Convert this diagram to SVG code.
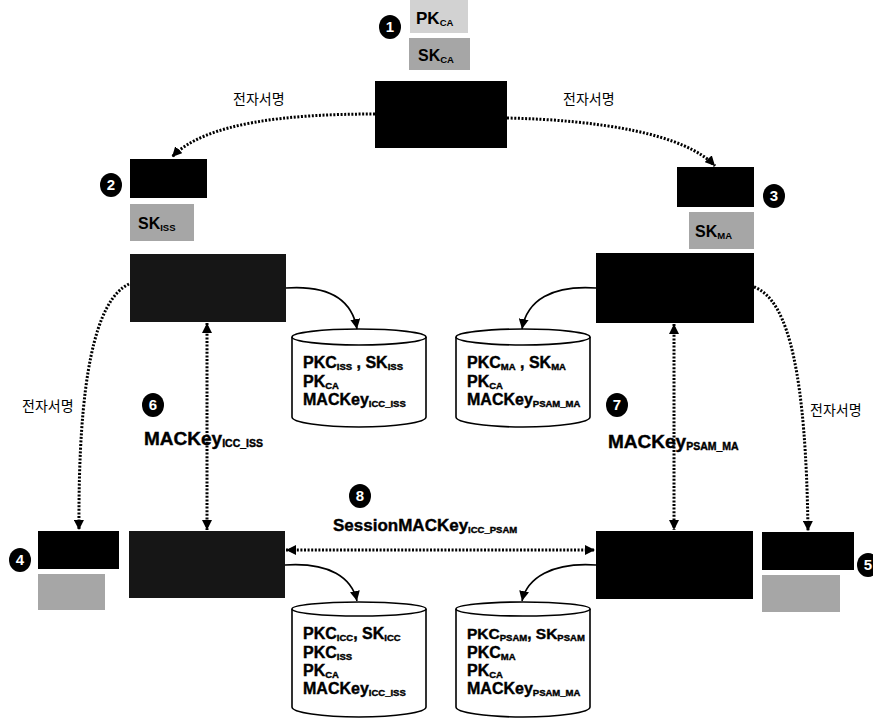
<svg xmlns="http://www.w3.org/2000/svg" width="873" height="727" viewBox="0 0 873 727">
<defs>
<style>
.blk{fill:#000}
.dark{fill:#161616}
.grey{fill:#a6a6a6}
.dot{fill:none;stroke:#000;stroke-width:3;stroke-dasharray:2 1.6}
.sol{fill:none;stroke:#000;stroke-width:1.6}
.cyl{fill:#fff;stroke:#000;stroke-width:1.6}
.t{font-family:"Liberation Sans",Arial,sans-serif;font-weight:bold;fill:#000}
.c{font-size:16px;stroke:#000;stroke-width:0.4}
.sub{font-size:9.5px;baseline-shift:-2px}
.kr{font-family:"Noto Sans CJK KR","Noto Sans",sans-serif;font-size:14px;fill:#000}
.num{font-family:"Liberation Sans",Arial,sans-serif;font-weight:bold;font-size:15px;fill:#fff;text-anchor:middle}
</style>
<marker id="ah" viewBox="0 0 10 10" refX="10" refY="5" markerWidth="10" markerHeight="10" markerUnits="userSpaceOnUse" orient="auto-start-reverse">
<path d="M0,0 L10,5 L0,10 z" fill="#000"/>
</marker>
</defs>
<rect width="873" height="727" fill="#fff"/>

<g id="ca">
<rect x="410" y="0" width="58" height="33" fill="#d2d2d2"/>
<text class="t" x="416" y="24" font-size="17">PK<tspan class="sub">CA</tspan></text>
<rect class="grey" x="409" y="38" width="61" height="32"/>
<text class="t" x="418" y="61" font-size="16" fill="#222">SK<tspan class="sub">CA</tspan></text>
<rect class="blk" x="375" y="81" width="132" height="67"/>
<ellipse cx="390" cy="27" rx="11" ry="12" fill="#000"/>
<text class="num" x="390" y="32">1</text>
</g>

<g id="iss">
<rect class="blk" x="130" y="159" width="77" height="39"/>
<ellipse cx="111" cy="185" rx="11" ry="12" fill="#000"/>
<text class="num" x="111" y="190">2</text>
<rect class="grey" x="130" y="204" width="64" height="37"/>
<text class="t" x="138" y="229" font-size="16" fill="#222">SK<tspan class="sub">ISS</tspan></text>
<rect class="dark" x="130" y="254" width="156" height="68"/>
</g>

<g id="ma">
<rect class="blk" x="677" y="167" width="77" height="40"/>
<ellipse cx="774" cy="196" rx="11" ry="12" fill="#000"/>
<text class="num" x="774" y="201">3</text>
<rect class="grey" x="689" y="212" width="65" height="37"/>
<text class="t" x="695" y="237" font-size="16" fill="#333">SK<tspan class="sub">MA</tspan></text>
<rect class="blk" x="596" y="253" width="158" height="70"/>
</g>

<g id="icc">
<rect class="blk" x="38" y="531" width="81" height="38"/>
<ellipse cx="20" cy="560" rx="11" ry="12" fill="#000"/>
<text class="num" x="20" y="565">4</text>
<rect class="grey" x="38" y="574" width="67" height="36"/>
<rect class="dark" x="129" y="531" width="156" height="67"/>
</g>

<g id="psam">
<rect class="blk" x="596" y="531" width="157" height="68"/>
<rect class="blk" x="762" y="532" width="92" height="38"/>
<ellipse cx="868" cy="565" rx="11" ry="12" fill="#000"/>
<text class="num" x="868" y="570">5</text>
<rect class="grey" x="762" y="575" width="78" height="37"/>
</g>

<g id="db-iss">
<path class="cyl" d="M292,337 A67,8 0 0 1 426,337 L426,417 A67,10 0 0 1 292,417 Z"/>
<path class="sol" d="M292,337 A67,8 0 0 0 426,337"/>
<text class="t c" x="303" y="368">PKC<tspan class="sub">ISS</tspan> , SK<tspan class="sub">ISS</tspan></text>
<text class="t c" x="303" y="387">PK<tspan class="sub">CA</tspan></text>
<text class="t c" x="303" y="405">MACKey<tspan class="sub">ICC_ISS</tspan></text>
</g>

<g id="db-ma">
<path class="cyl" d="M456,337 A67,8 0 0 1 590,337 L590,417 A67,10 0 0 1 456,417 Z"/>
<path class="sol" d="M456,337 A67,8 0 0 0 590,337"/>
<text class="t c" x="467" y="368">PKC<tspan class="sub">MA</tspan> , SK<tspan class="sub">MA</tspan></text>
<text class="t c" x="467" y="387">PK<tspan class="sub">CA</tspan></text>
<text class="t c" x="467" y="405">MACKey<tspan class="sub">PSAM_MA</tspan></text>
</g>

<g id="db-icc">
<path class="cyl" d="M292,609 A67,7 0 0 1 426,609 L426,707 A67,10 0 0 1 292,707 Z"/>
<path class="sol" d="M292,609 A67,7 0 0 0 426,609"/>
<text class="t c" x="303" y="639">PKC<tspan class="sub">ICC</tspan>, SK<tspan class="sub">ICC</tspan></text>
<text class="t c" x="303" y="658">PKC<tspan class="sub">ISS</tspan></text>
<text class="t c" x="303" y="676">PK<tspan class="sub">CA</tspan></text>
<text class="t c" x="303" y="694">MACKey<tspan class="sub">ICC_ISS</tspan></text>
</g>

<g id="db-psam">
<path class="cyl" d="M456,609 A67,7 0 0 1 590,609 L590,707 A67,10 0 0 1 456,707 Z"/>
<path class="sol" d="M456,609 A67,7 0 0 0 590,609"/>
<text class="t c" x="467" y="639" style="font-size:15.5px">PKC<tspan class="sub">PSAM</tspan>, SK<tspan class="sub">PSAM</tspan></text>
<text class="t c" x="467" y="658">PKC<tspan class="sub">MA</tspan></text>
<text class="t c" x="467" y="676">PK<tspan class="sub">CA</tspan></text>
<text class="t c" x="467" y="694">MACKey<tspan class="sub">PSAM_MA</tspan></text>
</g>

<g id="connectors">
<path class="dot" d="M375,114 C290,114 205,122 172,157" marker-end="url(#ah)"/>
<path class="dot" d="M507,118 C600,120 685,134 715,166" marker-end="url(#ah)"/>
<path class="dot" d="M129,284 C95,300 78,380 79,530" marker-end="url(#ah)"/>
<path class="dot" d="M754,287 C790,300 806,380 808,531" marker-end="url(#ah)"/>
<path class="dot" d="M207,323 L207,530" marker-start="url(#ah)" marker-end="url(#ah)"/>
<path class="dot" d="M674,324 L674,530" marker-start="url(#ah)" marker-end="url(#ah)"/>
<path class="dot" d="M286,550 L595,550" marker-start="url(#ah)" marker-end="url(#ah)"/>
<path class="sol" d="M286,288 C330,285 352,300 357,329" marker-end="url(#ah)"/>
<path class="sol" d="M596,288 C552,285 527,300 522,329" marker-end="url(#ah)"/>
<path class="sol" d="M285,565 C330,562 352,578 357,601" marker-end="url(#ah)"/>
<path class="sol" d="M596,565 C552,562 527,578 522,601" marker-end="url(#ah)"/>
</g>

<g id="labels">
<text class="kr" x="233" y="104">전자서명</text>
<text class="kr" x="563" y="104">전자서명</text>
<text class="kr" x="22" y="411">전자서명</text>
<text class="kr" x="810" y="415">전자서명</text>
<ellipse cx="153" cy="405" rx="11" ry="12" fill="#000"/>
<text class="num" x="153" y="410">6</text>
<text class="t" font-size="19" x="144" y="445" stroke="#000" stroke-width="0.4">MACKey<tspan class="sub" style="font-size:10.5px">ICC_ISS</tspan></text>
<ellipse cx="617" cy="405" rx="11" ry="12" fill="#000"/>
<text class="num" x="617" y="410">7</text>
<text class="t" font-size="19" x="608" y="448" stroke="#000" stroke-width="0.4">MACKey<tspan class="sub" style="font-size:10.5px">PSAM_MA</tspan></text>
<ellipse cx="360" cy="496" rx="11" ry="12" fill="#000"/>
<text class="num" x="360" y="501">8</text>
<text class="t" font-size="17" x="333" y="531" stroke="#000" stroke-width="0.4">SessionMACKey<tspan class="sub">ICC_PSAM</tspan></text>
</g>
</svg>
